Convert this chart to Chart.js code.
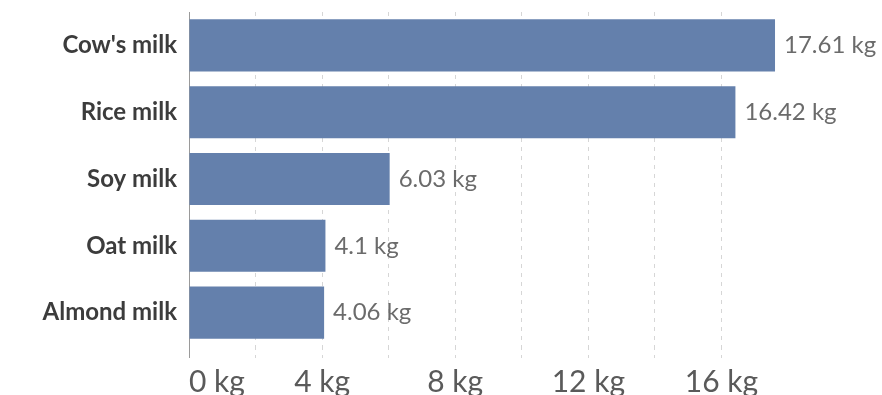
<!DOCTYPE html>
<html>
<head>
<meta charset="utf-8">
<script src="https://cdn.jsdelivr.net/npm/chart.js@4.4.1/dist/chart.umd.min.js"></script>
<style>
  html, body { margin: 0; padding: 0; background: #fff; }
  #wrap { width: 882px; height: 395px; }
</style>
</head>
<body>
<div id="wrap"><canvas id="milk"></canvas></div>
<script>
// Land use per litre of milk, kg
const drinks = ["Cow's milk", "Rice milk", "Soy milk", "Oat milk", "Almond milk"];
const landUse = [17.61, 16.42, 6.03, 4.1, 4.06];
const unit = " kg";
const tickStep = 2;
const labelStep = 4;
const axisMax = 18;

const barColor = "#6480ac";
const gridColor = "#d6d6d6";
const axisColor = "#9a9a9a";

// value label to the right of each bar
const valueLabels = {
  id: "valueLabels",
  afterDatasetsDraw(chart) {
    const ctx = chart.ctx;
    const meta = chart.getDatasetMeta(0);
    ctx.save();
    ctx.font = "24px Lato";
    ctx.fillStyle = "#6b6b6b";
    ctx.textBaseline = "middle";
    ctx.textAlign = "left";
    meta.data.forEach((bar, i) => {
      ctx.fillText(landUse[i] + unit, bar.x + 9, bar.y);
    });
    ctx.restore();
  }
};

const ctx = document.getElementById("milk").getContext("2d");

new Chart(ctx, {
  type: "bar",
  data: {
    labels: drinks,
    datasets: [
      {
        data: landUse,
        backgroundColor: barColor,
        borderWidth: 0,
        barPercentage: 0.78,
        categoryPercentage: 1,
      },
    ],
  },
  options: {
    indexAxis: "y",
    responsive: true,
    maintainAspectRatio: false,
    animation: false,
    layout: {
      padding: { top: 12, right: 94, bottom: 0, left: 0 },
    },
    plugins: {
      legend: { display: false },
      tooltip: { enabled: false },
    },
    scales: {
      y: {
        afterFit: (axis) => {
          axis.width = 189;
          axis.paddingTop = 0;
          axis.paddingBottom = 0;
        },
        grid: { display: false, drawTicks: false, tickLength: 0 },
        border: { display: true, color: axisColor, width: 1 },
        ticks: {
          padding: 12,
          color: "#3c3c3c",
          font: { family: "Lato", size: 24, weight: "bold" },
        },
      },
      x: {
        min: 0,
        max: axisMax,
        afterFit: (axis) => {
          axis.height = 49;
          axis.paddingLeft = 0;
          axis.paddingRight = 0;
        },
        border: { display: false, dash: [4, 5] },
        grid: {
          color: (c) => (c.tick && (c.tick.value === 0 || c.tick.value === axisMax) ? "rgba(0,0,0,0)" : gridColor),
          tickColor: (c) => (c.tick && c.tick.value === axisMax ? "rgba(0,0,0,0)" : c.tick && c.tick.value === 0 ? axisColor : gridColor),
          tickBorderDash: (c) => (c.tick && c.tick.value === 0 ? [] : [4, 5]),
          tickLength: 12,
        },
        ticks: {
          stepSize: tickStep,
          align: "inner",
          maxRotation: 0,
          autoSkip: false,
          padding: 6,
          color: "#5a5a5a",
          font: { family: "Lato", size: 30 },
          callback: (v) => (v % labelStep === 0 && v < axisMax ? v + unit : ""),
        },
      },
    },
  },
  plugins: [valueLabels],
});
</script>
</body>
</html>
